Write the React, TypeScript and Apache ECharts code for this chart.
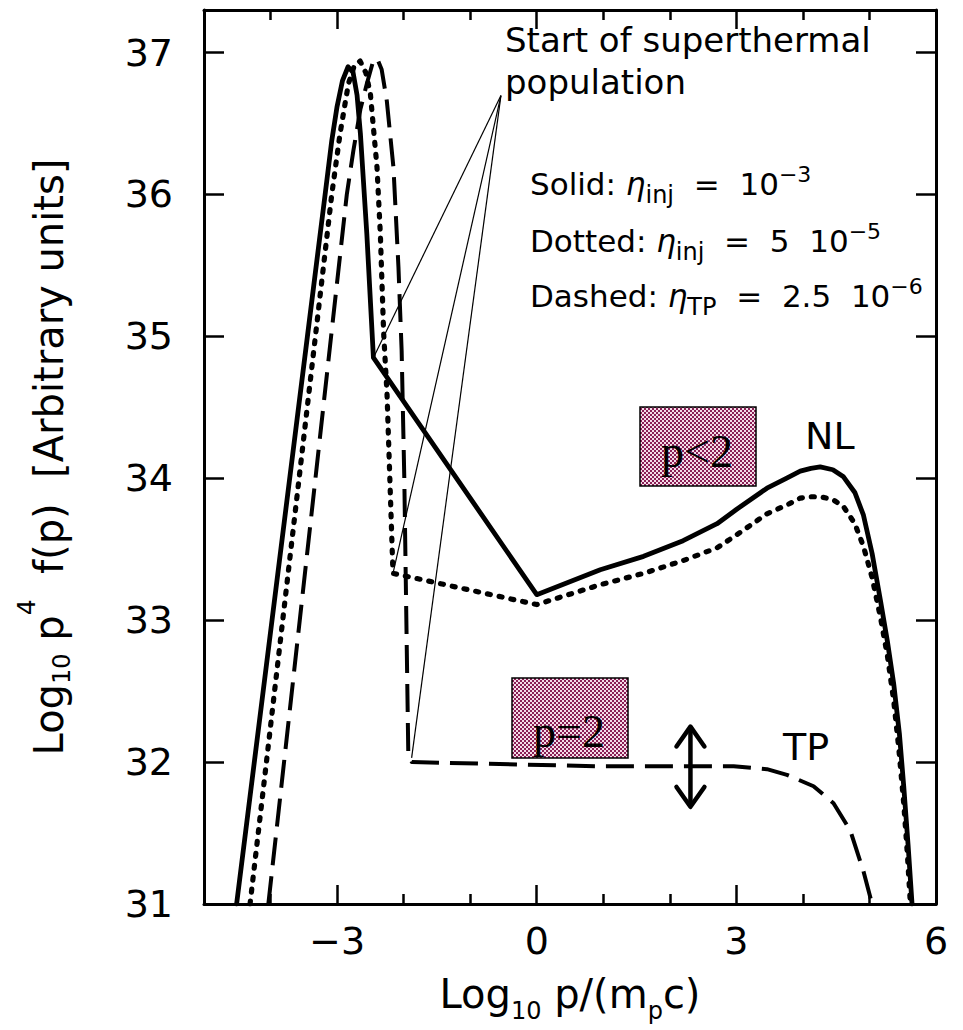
import React, { useEffect, useRef } from "react";
import * as echarts from "echarts";

// ---------- axes ----------
const X_RANGE = [-5, 6];
const Y_RANGE = [31, 37.3];
const X_MAJOR_TICKS = [-3, 0, 3, 6];
const X_MINOR_TICKS = [-4, -2, -1, 1, 2, 4, 5];
const Y_TICKS = [31, 32, 33, 34, 35, 36, 37];

// ---------- curves: Log10 p/(mpc) vs Log10 p^4 f(p) ----------
// Solid: eta_inj = 1e-3 (NL)
const SOLID_X = [
  -4.51, -4.244, -3.978, -3.712, -3.446, -3.18, -3.08, -3.0, -2.92, -2.835, -2.76, -2.7, -2.65,
  -2.553, -2.454, 0, 0.955, 1.606, 2.2, 2.71, 3.0, 3.46, 3.75, 3.96, 4.12, 4.26, 4.45, 4.61, 4.78,
  4.91, 5.04, 5.165, 5.27, 5.365, 5.45, 5.515, 5.58, 5.64,
];
const SOLID_Y = [
  31, 32, 33, 34, 35, 36, 36.38, 36.62, 36.8, 36.9, 36.86, 36.7, 36.43, 35.72, 34.85, 33.18, 33.356,
  33.45, 33.56, 33.68, 33.78, 33.93, 34.0, 34.05, 34.07, 34.08, 34.06, 34.01, 33.9, 33.74, 33.47,
  33.14, 32.85, 32.55, 32.2, 31.83, 31.42, 31,
];
// Dotted: eta_inj = 5e-5
const DOTTED_X = [
  -4.308, -4.062, -3.817, -3.571, -3.326, -3.08, -2.955, -2.83, -2.74, -2.654, -2.57, -2.5, -2.4,
  -2.35, -2.3, -2.25, -2.16, 0, 0.955, 1.606, 2.2, 2.71, 3.0, 3.46, 3.75, 3.96, 4.12, 4.26, 4.45,
  4.61, 4.78, 4.91, 5.04, 5.165, 5.27, 5.365, 5.44, 5.515, 5.57, 5.615,
];
const DOTTED_Y = [
  31, 32, 33, 34, 35, 36, 36.43, 36.78, 36.91, 36.94, 36.86, 36.71, 36.19, 35.72, 35.02, 34.6,
  33.33, 33.11, 33.25, 33.33, 33.42, 33.51, 33.6, 33.75, 33.81, 33.86, 33.87, 33.87, 33.85, 33.8,
  33.68, 33.52, 33.3, 33.02, 32.75, 32.43, 32.1, 31.71, 31.35, 31,
];
// Dashed: eta_TP = 2.5e-6 (TP)
const DASHED_X = [
  -4.033, -3.797, -3.561, -3.325, -3.09, -2.854, -2.755, -2.65, -2.553, -2.47, -2.4, -2.33, -2.253,
  -2.153, -2.078, -2.03, -1.99, -1.93, -1.877, 0.955, 2.96, 3.46, 3.76, 4.16, 4.46, 4.71, 4.91, 5.04,
];
const DASHED_Y = [
  31, 32, 33, 34, 35, 36, 36.31, 36.6, 36.78, 36.92, 36.96, 36.88, 36.66, 36.19, 35.49, 34.9, 34.0,
  32.06, 32.0, 31.97, 31.97, 31.95, 31.91, 31.83, 31.71, 31.52, 31.23, 31,
];

// "Start of superthermal population" pointers
const POINTER_START = [-0.538, 36.697];
const POINTER_END_X = [-2.454, -2.16, -1.88];
const POINTER_END_Y = [34.85, 33.33, 32.03];

// double arrow
const ARROW_X = 2.31;
const ARROW_Y = [31.685, 32.25];
const ARROW_HEAD_DX = 0.21;
const ARROW_HEAD_DY = 0.14;

const FONT = "DejaVu Sans";
const SERIF = "Liberation Serif";

const pts = (xs: number[], ys: number[]) => xs.map((x, i) => [x, ys[i]]);

function makeChecker(): HTMLCanvasElement {
  const c = document.createElement("canvas");
  c.width = 4;
  c.height = 4;
  const g = c.getContext("2d")!;
  g.fillStyle = "#f4dce8";
  g.fillRect(0, 0, 4, 4);
  g.fillStyle = "#8a1f55";
  g.fillRect(0, 0, 2, 2);
  g.fillRect(2, 2, 2, 2);
  return c;
}

export default function App() {
  const ref = useRef<HTMLDivElement>(null);

  useEffect(() => {
    if (!ref.current) return;
    const chart = echarts.init(ref.current, null, { renderer: "svg" });
    const checker = makeChecker();
    const pattern: any = { image: checker, repeat: "repeat", imageWidth: 4, imageHeight: 4 };

    const tickStyle = { color: "#000", width: 2.5 };
    const frameLine = { show: true, onZero: false, lineStyle: { color: "#000", width: 3 } };
    const xBase = {
      type: "value",
      min: X_RANGE[0],
      max: X_RANGE[1],
      interval: 1,
      splitLine: { show: false },
    };
    const yBase = {
      type: "value",
      min: Y_RANGE[0],
      max: Y_RANGE[1],
      interval: 1,
      splitLine: { show: false },
    };
    const fmt = (v: number) => (v < 0 ? "\u2212" + Math.abs(v) : String(v));

    const lineSeries = (name: string, data: any[], lineStyle: any, z = 3) => ({
      name,
      type: "line",
      data,
      showSymbol: false,
      symbol: "none",
      silent: true,
      z,
      lineStyle: { color: "#000", ...lineStyle },
    });

    const pointerSeries = POINTER_END_X.map((x, i) =>
      lineSeries("pointer" + i, [POINTER_START, [x, POINTER_END_Y[i]]], { width: 1.2 }, 2)
    );

    const arrowTop = ARROW_Y[1];
    const arrowBot = ARROW_Y[0];
    const arrowSeries = [
      lineSeries("arrowShaft", [[ARROW_X, arrowBot], [ARROW_X, arrowTop]], { width: 4.5 }),
      lineSeries(
        "arrowTop",
        [
          [ARROW_X - ARROW_HEAD_DX, arrowTop - ARROW_HEAD_DY],
          [ARROW_X, arrowTop],
          [ARROW_X + ARROW_HEAD_DX, arrowTop - ARROW_HEAD_DY],
        ],
        { width: 4.5, join: "round", cap: "round" }
      ),
      lineSeries(
        "arrowBottom",
        [
          [ARROW_X - ARROW_HEAD_DX, arrowBot + ARROW_HEAD_DY],
          [ARROW_X, arrowBot],
          [ARROW_X + ARROW_HEAD_DX, arrowBot + ARROW_HEAD_DY],
        ],
        { width: 4.5, join: "round", cap: "round" }
      ),
    ];

    const legendRich = {
      e: { fontFamily: FONT, fontStyle: "italic", fontSize: 31, fill: "#000" },
      s: { fontFamily: FONT, fontSize: 24, padding: [21, 0, 0, 0], fill: "#000" },
      p: { fontFamily: FONT, fontSize: 22, padding: [0, 0, 19, 0], fill: "#000" },
    };
    const legendText = (text: string, y: number) => ({
      type: "text",
      x: 530,
      y,
      z: 10,
      style: {
        text,
        fontFamily: FONT,
        fontSize: 31,
        fill: "#000",
        align: "left",
        verticalAlign: "middle",
        rich: legendRich,
      },
    });

    const option: any = {
      animation: false,
      backgroundColor: "#fff",
      textStyle: { fontFamily: FONT },
      grid: { left: 204, right: 27, top: 10, bottom: 126, containLabel: false, outerBoundsMode: "none" },
      xAxis: [
        {
          ...xBase,
          position: "bottom",
          axisLine: frameLine,
          axisTick: { show: true, inside: true, length: 19, customValues: X_MAJOR_TICKS, lineStyle: tickStyle },
          axisLabel: {
            show: true,
            customValues: X_MAJOR_TICKS,
            margin: 18,
            fontSize: 38,
            fontFamily: FONT,
            color: "#000",
            formatter: fmt,
          },
          name: "Log{s|10} p/(m{s|p}c)",
          nameLocation: "middle",
          nameGap: 61,
          nameTextStyle: {
            fontFamily: FONT,
            fontSize: 40,
            color: "#000",
            rich: {
              s: { fontFamily: FONT, fontSize: 24, color: "#000", padding: [34, 0, 0, 0] },
            },
          },
        },
        {
          ...xBase,
          position: "bottom",
          axisLine: { show: false },
          axisTick: { show: true, inside: true, length: 10, customValues: X_MINOR_TICKS, lineStyle: tickStyle },
          axisLabel: { show: false },
        },
        {
          ...xBase,
          position: "top",
          axisLine: frameLine,
          axisTick: { show: true, inside: true, length: 19, customValues: X_MAJOR_TICKS, lineStyle: tickStyle },
          axisLabel: { show: false },
        },
        {
          ...xBase,
          position: "top",
          axisLine: { show: false },
          axisTick: { show: true, inside: true, length: 10, customValues: X_MINOR_TICKS, lineStyle: tickStyle },
          axisLabel: { show: false },
        },
      ],
      yAxis: [
        {
          ...yBase,
          position: "left",
          axisLine: frameLine,
          axisTick: { show: true, inside: true, length: 20, customValues: Y_TICKS, lineStyle: tickStyle },
          axisLabel: {
            show: true,
            customValues: Y_TICKS,
            margin: 31,
            fontSize: 38,
            fontFamily: FONT,
            color: "#000",
          },
          name: "Log{s|10} p{u|4}  f(p)  [Arbitrary units]",
          nameLocation: "middle",
          nameGap: 121,
          nameTextStyle: {
            fontFamily: FONT,
            fontSize: 40,
            color: "#000",
            rich: {
              s: { fontFamily: FONT, fontSize: 24, color: "#000", padding: [27, 0, 0, 0] },
              u: { fontFamily: FONT, fontSize: 25, color: "#000", padding: [0, 0, 44, 0] },
            },
          },
        },
        {
          ...yBase,
          position: "right",
          axisLine: frameLine,
          axisTick: { show: true, inside: true, length: 20, customValues: Y_TICKS, lineStyle: tickStyle },
          axisLabel: { show: false },
        },
      ],
      series: [
        lineSeries("Solid", pts(SOLID_X, SOLID_Y), { width: 4.8, join: "round", cap: "round" }),
        lineSeries("Dotted", pts(DOTTED_X, DOTTED_Y), { width: 5.2, type: [3, 9], cap: "round", join: "round" }),
        lineSeries("Dashed", pts(DASHED_X, DASHED_Y), { width: 4, type: [28, 11], cap: "butt", join: "round" }),
        ...pointerSeries,
        ...arrowSeries,
      ],
      graphic: [
        {
          type: "text",
          x: 505,
          y: 19,
          z: 10,
          style: {
            text: "Start of superthermal\npopulation",
            fontFamily: FONT,
            fontSize: 34,
            lineHeight: 42,
            fill: "#000",
            align: "left",
            verticalAlign: "top",
          },
        },
        legendText("Solid: {e|\u03b7}{s|inj}  =  10{p|\u22123}", 184),
        legendText("Dotted: {e|\u03b7}{s|inj}  =  5  10{p|\u22125}", 241),
        legendText("Dashed: {e|\u03b7}{s|TP}  =  2.5  10{p|\u22126}", 296),
        {
          type: "text",
          x: 805,
          y: 436,
          z: 10,
          style: { text: "NL", fontFamily: FONT, fontSize: 38, fill: "#000", align: "left", verticalAlign: "middle" },
        },
        {
          type: "text",
          x: 783,
          y: 747,
          z: 10,
          style: { text: "TP", fontFamily: FONT, fontSize: 38, fill: "#000", align: "left", verticalAlign: "middle" },
        },
        {
          type: "rect",
          z: 10,
          shape: { x: 640, y: 407, width: 116, height: 79 },
          style: { fill: pattern, stroke: "#000", lineWidth: 1.5 },
        },
        {
          type: "text",
          x: 697,
          y: 451,
          z: 11,
          style: { text: "p<2", fontFamily: SERIF, fontSize: 46, fill: "#000", align: "center", verticalAlign: "middle" },
        },
        {
          type: "rect",
          z: 10,
          shape: { x: 512, y: 678, width: 116, height: 80 },
          style: { fill: pattern, stroke: "#000", lineWidth: 1.5 },
        },
        {
          type: "text",
          x: 569,
          y: 731,
          z: 11,
          style: { text: "p=2", fontFamily: SERIF, fontSize: 46, fill: "#000", align: "center", verticalAlign: "middle" },
        },
      ],
    };

    chart.setOption(option);
    return () => {
      chart.dispose();
    };
  }, []);

  return (
    <div
      ref={ref}
      style={{ position: "absolute", left: 0, top: 0, width: 963, height: 1030, background: "#fff" }}
    />
  );
}
